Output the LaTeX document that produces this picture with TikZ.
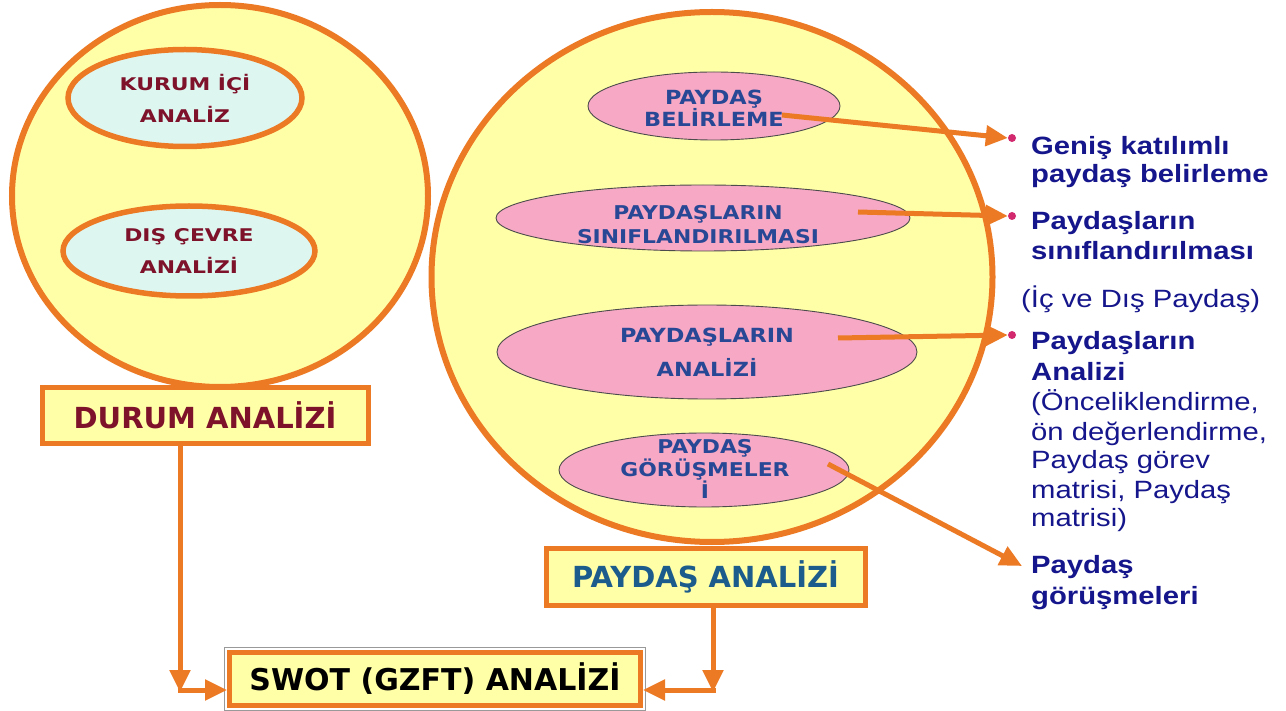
\documentclass[tikz,border=0pt]{standalone}
\usepackage{fontspec}
\usetikzlibrary{shapes.geometric,arrows.meta}
\newfontfamily\ellf[FakeStretch=1.15]{DejaVu Sans}
\newfontfamily\lellf[FakeStretch=1.25]{DejaVu Sans}
\newfontfamily\boxf{DejaVu Sans}
\newfontfamily\rtf[FakeStretch=1.17]{Liberation Sans}
\definecolor{orng}{RGB}{236,122,36}
\definecolor{yel}{RGB}{255,255,168}
\definecolor{cyanf}{RGB}{222,246,240}
\definecolor{pinkf}{RGB}{247,168,196}
\definecolor{dred}{RGB}{125,18,42}
\definecolor{ellblue}{RGB}{40,72,150}
\definecolor{boxblue}{RGB}{28,92,140}
\definecolor{navy}{RGB}{22,22,140}
\definecolor{bulc}{RGB}{210,40,110}
\begin{document}
\begin{tikzpicture}[x=1pt,y=-1pt,
  bigc/.style={ellipse,draw=orng,fill=yel,line width=6pt,inner sep=0pt},
  cyell/.style={ellipse,draw=orng,fill=cyanf,line width=5.5pt,inner sep=0pt},
  pell/.style={ellipse,draw=black!70,fill=pinkf,line width=0.9pt,inner sep=0pt},
  ltxt/.style={align=center,text=dred,font=\lellf\bfseries\fontsize{17.5}{32}\selectfont,inner sep=0pt},
  ptxt/.style={align=center,text=ellblue,font=\ellf\bfseries\fontsize{19.5}{22}\selectfont,inner sep=0pt},
  obox/.style={rectangle,draw=orng,fill=yel,line width=5pt,inner sep=0pt,font=\boxf\bfseries\fontsize{29}{34}\selectfont},
  arr/.style={draw=orng,line width=5pt,-{Triangle[length=22pt,width=20pt]}},
  bul/.style={circle,fill=bulc,inner sep=0pt,minimum size=8pt},
  rb/.style={anchor=base west,text=navy,inner sep=0pt,font=\rtf\bfseries\fontsize{25}{30}\selectfont},
  rr/.style={anchor=base west,text=navy,inner sep=0pt,font=\rtf\fontsize{25}{30}\selectfont}]
\useasboundingbox (0,0) rectangle (1286,711);
\fill[white] (0,0) rectangle (1286,711);

% left part
\node[bigc,minimum width=416pt,minimum height=382pt] (lc) at (220,196) {};
\node[cyell,minimum width=234pt,minimum height=97pt] (k) at (185,98) {};
\node[ltxt] (kt) at (k) {KURUM İÇİ\\ANALİZ};
\node[cyell,minimum width=252pt,minimum height=90pt] (d) at (189,251) {};
\node[ltxt] (dt) at (d) {DIŞ ÇEVRE\\ANALİZİ};
\node[obox,minimum width=326pt,minimum height=55pt,text=dred] (durum) at (205,415.5) {DURUM ANALİZİ};

% right part
\node[bigc,minimum width=561pt,minimum height=530pt] (rc) at (712,277) {};
\node[pell,minimum width=252pt,minimum height=68pt] (e1) at (714,106) {};
\node[ptxt] (t1) at (714,108) {PAYDAŞ\\BELİRLEME};
\node[pell,minimum width=414pt,minimum height=66pt] (e2) at (703,218) {};
\node[ptxt,font=\ellf\bfseries\fontsize{19}{24}\selectfont] (t2) at (698,225) {PAYDAŞLARIN\\SINIFLANDIRILMASI};
\node[pell,minimum width=420pt,minimum height=94pt] (e3) at (707,352) {};
\node[ptxt,font=\ellf\bfseries\fontsize{19.5}{34}\selectfont] (t3) at (707,352) {PAYDAŞLARIN\\ANALİZİ};
\node[pell,minimum width=290pt,minimum height=74pt] (e4) at (704,470) {};
\node[ptxt,font=\ellf\bfseries\fontsize{19}{20.5}\selectfont] (t4) at (705,469) {PAYDAŞ\\GÖRÜŞMELER\\İ};
\node[obox,minimum width=319pt,minimum height=57pt,text=boxblue] (pa) at (705.5,576.5) {PAYDAŞ ANALİZİ};

% SWOT box
\node[obox,minimum width=412pt,minimum height=54pt,line width=4pt,font=\boxf\bfseries\fontsize{30}{34}\selectfont] (swot) at (435,679) {SWOT (GZFT) ANALİZİ};
\draw[gray!80,line width=0.8pt] ([shift={(-2.6,-2.6)}]swot.north west) rectangle ([shift={(2.6,2.6)}]swot.south east);
\draw[orng,line width=0.8pt] ([shift={(4.5,4.5)}]swot.north west) rectangle ([shift={(-4.5,-4.5)}]swot.south east);

% bottom connectors
\coordinate (c1) at (180,690);
\coordinate (c2) at (713,690);
\draw[arr] (durum.south -| c1) -- ([yshift=-2pt]c1);
\draw[arr] ([xshift=-2.5pt]c1) -- (swot.west |- c1);
\draw[arr] (pa.south -| c2) -- ([yshift=-2pt]c2);
\draw[arr] ([xshift=2.5pt]c2) -- (swot.east |- c2);

% bullets
\node[bul] (b1) at (1012,138) {};
\node[bul] (b2) at (1012,216) {};
\node[bul] (b3) at (1012,335) {};

% right arrows
\coordinate (a1) at (782,115);
\coordinate (a2) at (858,212);
\coordinate (a3) at (838,338);
\coordinate (a4) at (828,464);
\coordinate (a4e) at (1022,566);
\draw[arr] (a1) -- (b1.west);
\draw[arr] (a2) -- (b2.west);
\draw[arr] (a3) -- (b3.west);
\draw[arr] (a4) -- (a4e);

% right texts
\node[rb] (r1) at (1031,155) {Geniş katılımlı};
\node[rb] (r2) at (1031,183) {paydaş belirleme};
\node[rb] (r3) at (1031,230) {Paydaşların};
\node[rb] (r4) at (1031,260) {sınıflandırılması};
\node[rr] (r5) at (1021,308) {(İç ve Dış Paydaş)};
\node[rb] (r6) at (1031,350) {Paydaşların};
\node[rb] (r7) at (1031,381) {Analizi};
\node[rr] (r8) at (1031,410) {(Önceliklendirme,};
\node[rr] (r9) at (1031,440) {ön değerlendirme,};
\node[rr] (r10) at (1031,468) {Paydaş görev};
\node[rr] (r11) at (1031,498) {matrisi, Paydaş};
\node[rr] (r12) at (1031,526) {matrisi)};
\node[rb] (r13) at (1031,573) {Paydaş};
\node[rb] (r14) at (1031,604) {görüşmeleri};
\end{tikzpicture}
\end{document}
